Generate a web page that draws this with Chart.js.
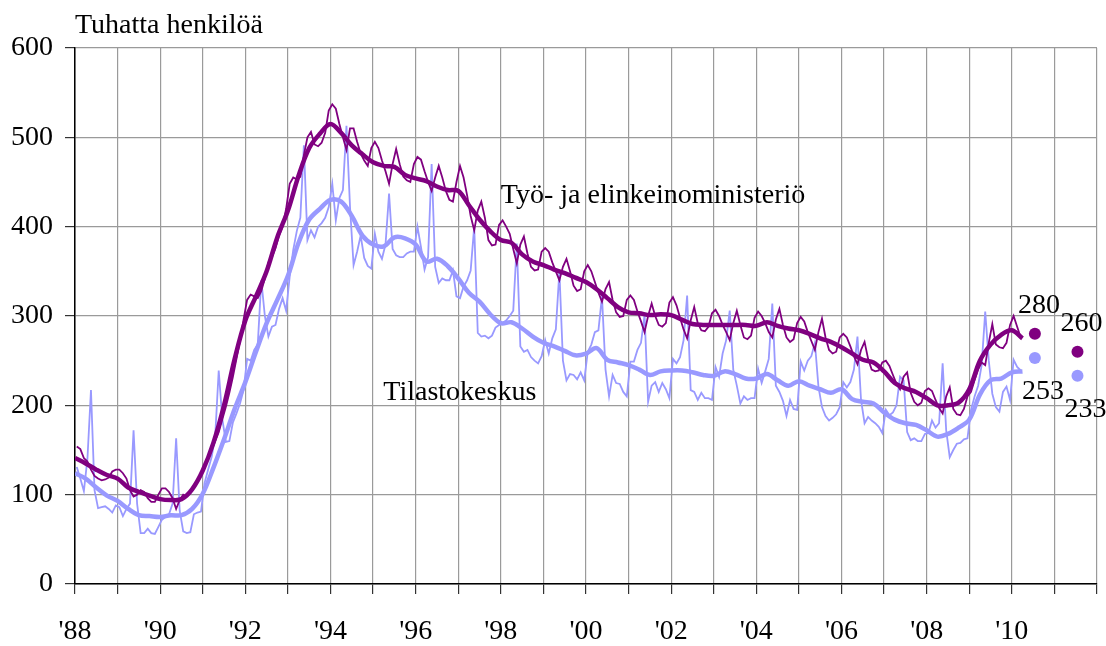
<!DOCTYPE html>
<html>
<head>
<meta charset="utf-8">
<script src="https://cdn.jsdelivr.net/npm/chart.js@4.4.1/dist/chart.umd.min.js"></script>
<style>
  html, body { margin: 0; padding: 0; background: #fff; }
</style>
</head>
<body>
<canvas id="unemploymentChart" width="1106" height="646"></canvas>
<script>
const firstYear = 1988;
const lastAxisYear = 2012;
const lastLabelYear = 2010;

// Monthly figures, thousand persons, Jan 1988 - Mar 2010 (one row per year)
const temRaw = [
  154, 151, 141, 137, 128, 121, 118, 116, 117, 119, 126, 128,
  128, 124, 118, 105, 98, 100, 105, 103, 96, 92, 92, 100,
  107, 107, 103, 96, 84, 94, 100, 98, 102, 109, 116, 122,
  132, 141, 150, 160, 170, 184, 198, 214, 232, 252, 272, 296,
  318, 324, 322, 320, 328, 342, 360, 366, 376, 390, 400, 420,
  448, 455, 453, 456, 480, 500, 506, 492, 490, 494, 505, 530,
  537, 532, 515, 500, 486, 510, 510, 495, 482, 474, 468, 488,
  495, 488, 474, 462, 448, 470, 487, 470, 456, 452, 450, 470,
  478, 475, 462, 450, 440, 455, 468, 455, 440, 430, 428, 450,
  468, 455, 435, 412, 396, 418, 428, 410, 385, 379, 380, 402,
  407, 400, 392, 375, 359, 380, 389, 370, 355, 351, 352, 372,
  376, 372, 360, 350, 340, 355, 364, 350, 334, 328, 330, 350,
  357, 350, 338, 326, 316, 330, 338, 318, 304, 299, 300, 318,
  323, 318, 305, 294, 282, 300, 314, 300, 290, 288, 292, 315,
  321, 312, 298, 285, 275, 295, 310, 292, 284, 283, 288, 303,
  307, 300, 290, 282, 273, 292, 306, 290, 276, 274, 278, 298,
  305, 300, 292, 282, 276, 296, 308, 290, 276, 271, 274, 292,
  299, 294, 282, 272, 262, 282, 297, 276, 262, 258, 260, 276,
  280, 276, 266, 255, 246, 262, 271, 252, 240, 238, 239, 248,
  250, 244, 234, 224, 218, 232, 237, 214, 204, 200, 203, 216,
  219, 216, 206, 197, 191, 210, 220, 196, 190, 189, 196, 210,
  215, 228, 240, 248, 245, 270, 291, 268, 265, 264, 270, 290,
  300, 288, 276
];

const tkRaw = [
  131, 118, 104, 140, 217, 105, 85, 86, 87, 84, 80, 88,
  86, 76, 84, 90, 172, 90, 57, 57, 62, 57, 56, 64,
  72, 75, 78, 90, 163, 82, 59, 57, 58, 78, 80, 81,
  113, 128, 142, 165, 239, 185, 159, 160, 181, 191, 202, 217,
  252, 250, 262, 268, 340, 300, 277, 288, 290, 308, 320, 306,
  344, 374, 395, 410, 491, 385, 396, 388, 400, 404, 410, 422,
  448, 407, 432, 441, 513, 422, 357, 372, 390, 365, 356, 353,
  392, 372, 364, 380, 437, 375, 368, 366, 366, 370, 372, 372,
  400, 377, 352, 366, 470, 355, 337, 342, 340, 340, 351, 322,
  320, 333, 340, 351, 400, 281, 277, 278, 275, 278, 287, 290,
  292, 295, 300, 306, 381, 266, 260, 262, 254, 250, 247, 255,
  273, 258, 275, 285, 350, 250, 228, 235, 234, 229, 237, 228,
  260, 268, 282, 284, 322, 240, 210, 234, 225, 224, 215, 210,
  249, 249, 262, 270, 301, 204, 222, 226, 215, 225, 218, 208,
  252, 247, 254, 273, 323, 217, 215, 206, 214, 208, 208, 206,
  243, 232, 258, 273, 306, 240, 222, 202, 210, 206, 208, 208,
  241, 225, 238, 252, 314, 222, 215, 205, 188, 206, 196, 195,
  249, 239, 250, 255, 270, 221, 198, 188, 183, 186, 190, 198,
  226, 220, 226, 240, 277, 206, 180, 187, 183, 180, 176, 169,
  195, 189, 192, 200, 232, 228, 170, 161, 163, 160, 160, 168,
  169, 183, 175, 180, 247, 172, 142, 150, 157, 158, 162, 163,
  195, 210, 222, 245, 305, 250, 213, 198, 193, 215, 221, 206,
  251, 243, 239
];

// Trend, read at quarter starts 1988.00 ... 2010.25
const temTrend = [
  141, 135, 128, 122,  118, 108, 103, 99,  95, 94, 95, 106,
  127, 158, 200, 252,  295, 322, 350, 388,  418, 457, 488, 504,
  515, 505, 491, 481,  472, 468, 467, 458,  454, 451, 445, 441,
  440, 424, 408, 395,  385, 382, 369, 361,  357, 352, 348, 343,
  338, 330, 320, 310,  304, 303, 301, 302,  301, 296, 291, 290,
  290, 290, 290, 290,  289, 293, 289, 286,  284, 280, 275, 271,
  265, 258, 251, 248,  238, 225, 219, 215,  208, 200, 200, 203,
  218, 250, 268, 279,  284, 275
];

const tkTrend = [
  124, 118, 108, 99,  93, 84, 77, 76,  75, 77, 77, 84,
  101, 130, 162, 196,  226, 260, 292, 318,  345, 382, 408, 420,
  430, 428, 412, 390,  380, 378, 388, 387,  380, 361, 364, 356,
  342, 326, 316, 302,  292, 293, 286, 277,  270, 266, 261, 256,
  258, 264, 251, 248,  245, 240, 234, 238,  239, 239, 237, 234,
  233, 238, 235, 230,  230, 235, 228, 222,  227, 222, 218, 214,
  218, 207, 204, 202,  192, 184, 180, 178,  172, 165, 168, 175,
  184, 212, 228, 230,  237, 238
];

// Annual forecasts
const forecastYears = [2010, 2011];
const temForecast = [280, 260];
const tkForecast = [253, 233];

const seriesNames = ['Työ- ja elinkeinoministeriö', 'Tilastokeskus'];
const unitLabel = 'Tuhatta henkilöä';

const purple = '#800080';
const lilac = '#9999ff';
const serif = '"Liberation Serif", "Times New Roman", serif';

function monthly(values) {
  return values.map((v, i) => ({ x: firstYear + (i + 0.5) / 12, y: v }));
}
function quarterly(values) {
  return values.map((v, i) => ({ x: firstYear + i / 4, y: v }));
}
const forecastX = forecastYears.map(y => y + 6.5 / 12); // plotted at July

const textPlugin = {
  id: 'chartTexts',
  afterDatasetsDraw(chart) {
    const { ctx, chartArea } = chart;
    const x = chart.scales.x, y = chart.scales.y;
    ctx.save();
    ctx.font = '28px ' + serif;
    ctx.fillStyle = '#000';
    ctx.textBaseline = 'alphabetic';
    ctx.textAlign = 'left';
    ctx.fillText(unitLabel, chartArea.left, 33);
    ctx.fillText(seriesNames[0], x.getPixelForValue(1998.0), y.getPixelForValue(426));
    ctx.fillText(seriesNames[1], x.getPixelForValue(1995.24), y.getPixelForValue(206));
    ctx.textAlign = 'center';
    forecastX.forEach((fx, i) => {
      const px = x.getPixelForValue(fx);
      ctx.fillText(String(temForecast[i]), px + 4, y.getPixelForValue(temForecast[i]) - 21);
      ctx.fillText(String(tkForecast[i]), px + 8, y.getPixelForValue(tkForecast[i]) + 41);
    });
    ctx.restore();
  }
};

new Chart('unemploymentChart', {
  type: 'line',
  data: {
    datasets: [
      { // forecast dots, TEM
        data: forecastX.map((fx, i) => ({ x: fx, y: temForecast[i] })),
        showLine: false, pointRadius: 6, pointBackgroundColor: purple, pointBorderWidth: 0
      },
      { // forecast dots, Tilastokeskus
        data: forecastX.map((fx, i) => ({ x: fx, y: tkForecast[i] })),
        showLine: false, pointRadius: 6, pointBackgroundColor: lilac, pointBorderWidth: 0
      },
      { label: seriesNames[0] + ' trendi', data: quarterly(temTrend), borderColor: purple, borderWidth: 4.5, tension: 0.35, pointRadius: 0 },
      { label: seriesNames[0], data: monthly(temRaw), borderColor: purple, borderWidth: 1.8, tension: 0, pointRadius: 0 },
      { label: seriesNames[1] + ' trendi', data: quarterly(tkTrend), borderColor: lilac, borderWidth: 4.5, tension: 0.35, pointRadius: 0 },
      { label: seriesNames[1], data: monthly(tkRaw), borderColor: lilac, borderWidth: 1.8, tension: 0, pointRadius: 0 }
    ]
  },
  options: {
    responsive: false,
    devicePixelRatio: 1,
    animation: false,
    layout: { padding: { top: 48, right: 9, left: 0, bottom: 0 } },
    plugins: { legend: { display: false }, tooltip: { enabled: false } },
    scales: {
      x: {
        type: 'linear',
        min: firstYear,
        max: lastAxisYear,
        afterFit: (s) => { s.height = 62; s.paddingLeft = 0; s.paddingRight = 0; },
        ticks: {
          stepSize: 1,
          autoSkip: false,
          maxRotation: 0,
          padding: 21,
          color: '#000',
          font: { family: serif, size: 28 },
          callback: (v) => (v % 2 === 0 && v <= lastLabelYear) ? "'" + String(v).slice(2) : ''
        },
        grid: { color: '#9a9a9a', lineWidth: 1.2, tickLength: 10, tickColor: '#333' },
        border: { color: '#000', width: 1.5 }
      },
      y: {
        min: 0,
        max: 600,
        afterFit: (s) => { s.width = 75; },
        ticks: {
          stepSize: 100,
          padding: 12,
          color: '#000',
          font: { family: serif, size: 28 }
        },
        grid: { color: '#9a9a9a', lineWidth: 1.2, tickLength: 10, tickColor: '#333' },
        border: { color: '#000', width: 1.5 }
      }
    }
  },
  plugins: [textPlugin]
});
</script>
</body>
</html>
